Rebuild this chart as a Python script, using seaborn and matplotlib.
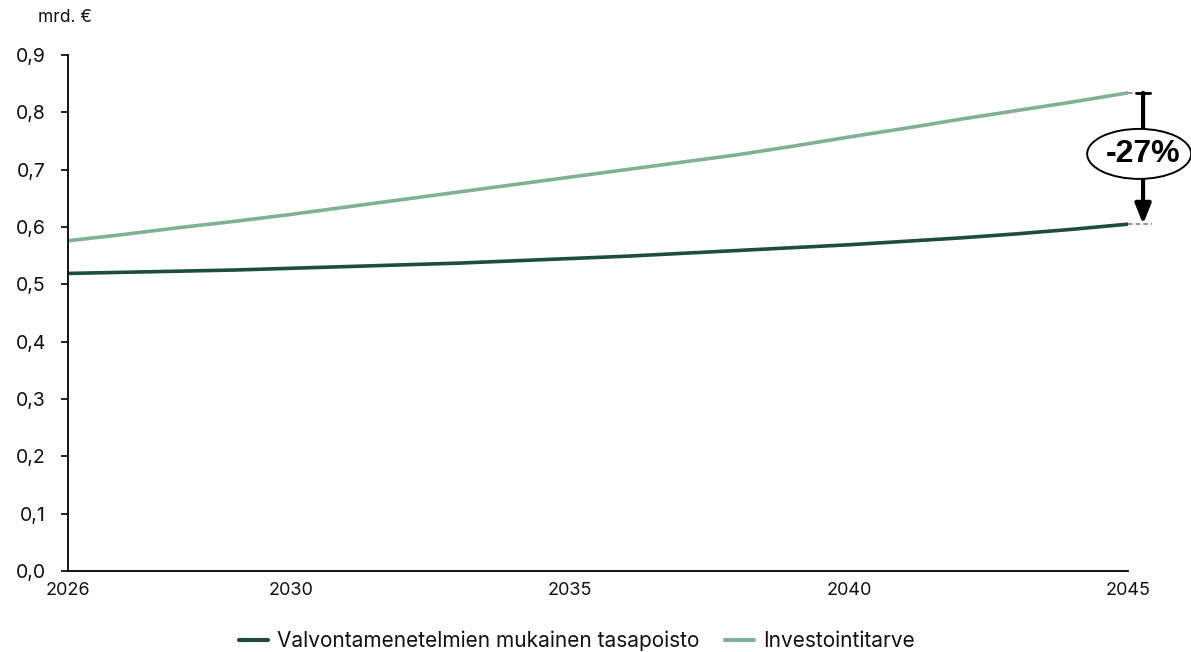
import numpy as np
import pandas as pd
import seaborn as sns
import matplotlib.pyplot as plt
from matplotlib.patches import Ellipse
from matplotlib.transforms import ScaledTranslation
from matplotlib.ticker import FuncFormatter

# Data (mrd. €)
years = list(range(2026, 2046))
tasapoisto = [0.519, 0.521, 0.523, 0.525, 0.528, 0.531, 0.534, 0.537, 0.541, 0.545,
              0.549, 0.554, 0.559, 0.564, 0.569, 0.575, 0.581, 0.588, 0.596, 0.605]
investointitarve = [0.576, 0.587, 0.599, 0.610, 0.622, 0.635, 0.648, 0.661, 0.674, 0.687,
                    0.700, 0.713, 0.726, 0.741, 0.757, 0.772, 0.788, 0.803, 0.818, 0.834]
series_names = ["Valvontamenetelmien mukainen tasapoisto", "Investointitarve"]
series_colors = ["#1f4d3c", "#80b195"]
x_ticks = [2026, 2030, 2035, 2040, 2045]
y_ticks = [0.0, 0.1, 0.2, 0.3, 0.4, 0.5, 0.6, 0.7, 0.8, 0.9]
unit_label = "mrd. €"

sns.set_theme(style="white")
plt.rcParams["font.family"] = ["Inter", "DejaVu Sans"]

df = pd.DataFrame({
    "Vuosi": years * 2,
    "Arvo": tasapoisto + investointitarve,
    "Sarja": [series_names[0]] * len(years) + [series_names[1]] * len(years),
})

W, H = 1191, 652
fig = plt.figure(figsize=(W / 100, H / 100), dpi=100)
ax = fig.add_axes([68 / W, 1 - 571 / H, 1060 / W, (571 - 55) / H])

sns.lineplot(data=df, x="Vuosi", y="Arvo", hue="Sarja", hue_order=series_names,
             palette=series_colors, linewidth=2.6, ax=ax)

ax.set_xlim(2026, 2045)
ax.set_ylim(0, 0.9)
ax.set_xticks(x_ticks)
ax.set_xticklabels([str(t) for t in x_ticks])
ax.set_yticks(y_ticks)
ax.yaxis.set_major_formatter(FuncFormatter(lambda v, p: f"{v:.1f}".replace(".", ",")))
ax.set_xlabel("")
ax.set_ylabel("")

for s in ["top", "right"]:
    ax.spines[s].set_visible(False)
for s in ["left", "bottom"]:
    ax.spines[s].set_color("black")
    ax.spines[s].set_linewidth(1.3)

ax.tick_params(axis="y", length=5, width=1.2, direction="out", colors="black",
               labelsize=14, pad=11, left=True)
ax.tick_params(axis="x", length=0, labelsize=13, pad=8, colors="black")
for lbl in ax.get_xticklabels() + ax.get_yticklabels():
    lbl.set_color("#111111")

fig.text(38 / W, 1 - 18 / H, unit_label, fontsize=12.5, va="center", ha="left", color="#111111")

# Legend below the plot
sns.move_legend(ax, "center", bbox_to_anchor=(577 / W, 1 - 641 / H),
                bbox_transform=fig.transFigure, ncol=2, frameon=False, title=None,
                fontsize=15, handlelength=1.4, columnspacing=1.2, handletextpad=0.45)
for line in ax.get_legend().get_lines():
    line.set_linewidth(3)
for t in ax.get_legend().get_texts():
    t.set_color("#111111")

# Gap annotation at the end of the period
end_x = years[-1]
top_v = investointitarve[-1]
bot_v = tasapoisto[-1]
arrow_x = end_x + 0.27
for v in (top_v, bot_v):
    ax.plot([end_x, end_x + 0.43], [v, v], color="#777777", lw=1.1, ls=(0, (3, 2)),
            clip_on=False, zorder=3)
ax.plot([arrow_x - 0.12, arrow_x + 0.12], [top_v, top_v], color="black", lw=2,
        clip_on=False, zorder=4)
ax.annotate("", xy=(arrow_x, bot_v), xytext=(arrow_x, top_v),
            arrowprops=dict(arrowstyle="-|>,head_width=0.4,head_length=1.0",
                            lw=3, color="black", shrinkA=0, shrinkB=0),
            annotation_clip=False, zorder=4)

ell_x, label_y = end_x + 0.2, 0.7275
ell = Ellipse((0, 0), width=1.04, height=0.5, facecolor="white", edgecolor="black",
              lw=1.4, zorder=5, clip_on=False,
              transform=fig.dpi_scale_trans + ScaledTranslation(ell_x, label_y, ax.transData))
ax.add_artist(ell)
change = (bot_v / top_v - 1) * 100
ax.text(end_x + 0.27, label_y, f"{change:.0f}%", ha="center", va="center",
        fontsize=23, fontweight="bold", family=["Liberation Sans", "DejaVu Sans"],
        color="black", zorder=6, clip_on=False)

fig.savefig("out.png", dpi=100)
